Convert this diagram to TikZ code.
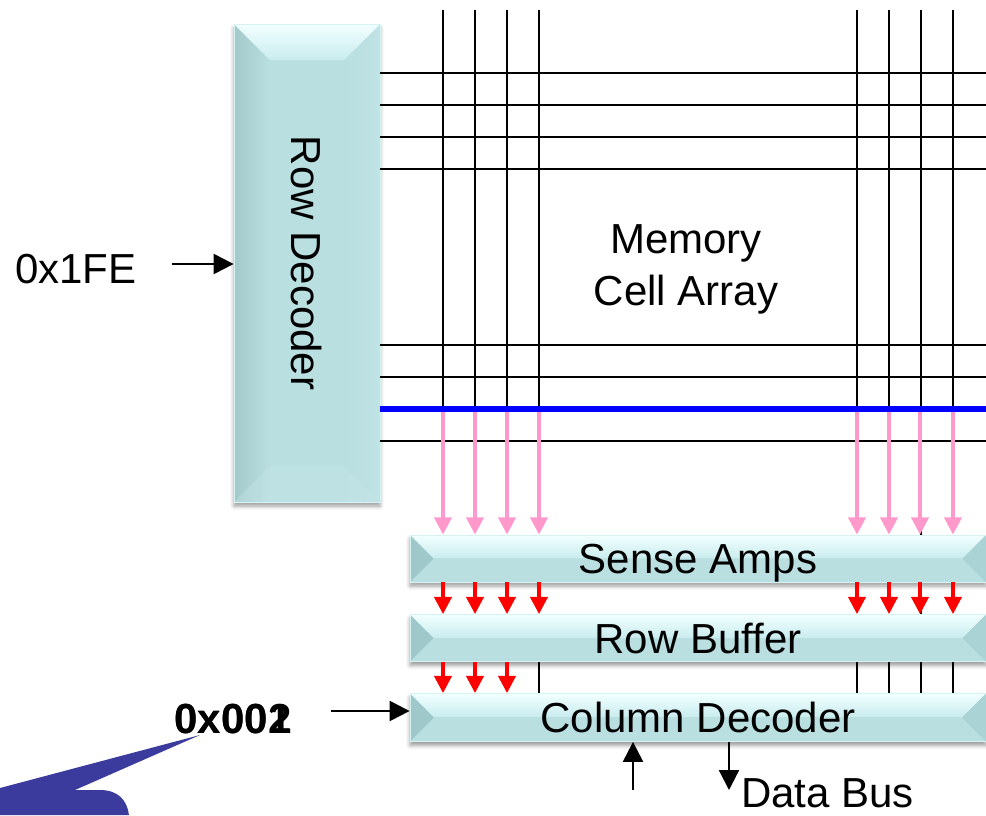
\documentclass[tikz,border=0pt]{standalone}
\usepackage{fontspec}
\setmainfont{Liberation Sans}
\usetikzlibrary{arrows.meta,calc,shadows.blur}
\definecolor{cbase}{HTML}{B9DFE1}
\definecolor{cleft}{HTML}{9EC8CA}
\definecolor{cright}{HTML}{AAD3D5}
\definecolor{ctopw}{HTML}{F2FFFF}
\definecolor{ctopl}{HTML}{C9ECEE}
\definecolor{cedge}{HTML}{D6F2F3}
\definecolor{vleft}{HTML}{A3C9CB}
\definecolor{vright}{HTML}{C0E3E5}
\definecolor{pinkline}{HTML}{FF99CC}
\definecolor{calloutblue}{HTML}{3B3B9E}
\tikzset{
  lbl/.style={font=\fontsize{31.5}{38}\selectfont, inner sep=0pt},
  boxshadow/.style={blur shadow={shadow xshift=0pt,shadow yshift=-3pt,shadow blur radius=3pt,shadow opacity=40}},
  hbevel/.style={draw=cedge, line width=0.6pt, boxshadow,
    text height=22.6pt, text depth=0pt, inner sep=0pt,
    font=\fontsize{31.5}{38}\selectfont,
    path picture={
      \coordinate (bSW) at (path picture bounding box.south west);
      \coordinate (bNE) at (path picture bounding box.north east);
      \coordinate (bNW) at (bSW |- bNE);
      \coordinate (bSE) at (bNE |- bSW);
      \fill[cbase] (bSW) rectangle (bNE);
      \shade[top color=ctopw, bottom color=ctopl] (bNW) -- (bNE) -- ($(bNE)+(-#1,-#1)$) -- ($(bNW)+(#1,-#1)$) -- cycle;
      \fill[cleft] (bNW) -- ($(bNW)+(#1,-#1)$) -- ($(bSW)+(#1,#1)$) -- (bSW) -- cycle;
      \fill[cright] (bNE) -- ($(bNE)+(-#1,-#1)$) -- ($(bSE)+(-#1,#1)$) -- (bSE) -- cycle;
    }},
  vbevel/.style={draw=cedge, line width=0.6pt, boxshadow, inner sep=0pt,
    path picture={
      \coordinate (bSW) at (path picture bounding box.south west);
      \coordinate (bNE) at (path picture bounding box.north east);
      \coordinate (bNW) at (bSW |- bNE);
      \coordinate (bSE) at (bNE |- bSW);
      \fill[cbase] (bSW) rectangle (bNE);
      \shade[left color=vleft, right color=cbase] (bSW) rectangle ($(bNW)+(#1,0)$);
      \shade[left color=cbase, right color=vright] ($(bSE)+(-#1,0)$) rectangle (bNE);
      \shade[top color=ctopw, bottom color=ctopl] (bNW) -- (bNE) -- ($(bNE)+(-#1,-#1)$) -- ($(bNW)+(#1,-#1)$) -- cycle;
      \fill[cbase!80!white, opacity=0.4] (bSW) -- (bSE) -- ($(bSE)+(-#1,#1)$) -- ($(bSW)+(#1,#1)$) -- cycle;
    }},
  gridline/.style={line width=1.5pt, black},
  busline/.style={line width=4.5pt, color={rgb,255:red,0;green,0;blue,255}},
  pinkarr/.style={line width=2.6pt, pinkline, -{Triangle[length=13pt,width=13pt]}},
  redarr/.style={line width=2.6pt, red, -{Triangle[length=13pt,width=13pt]}},
  blkarr/.style={line width=1.7pt, black, -{Triangle[length=15pt,width=15pt]}},
}
\begin{document}
\begin{tikzpicture}[x=0.75pt,y=-0.75pt]
\useasboundingbox (0,0) rectangle (986,815);

% callout shape bottom-left
\fill[calloutblue] (200,735) -- (0,788) -- (0,815) -- (129,815)
  .. controls (127,800) and (118,790) .. (100,790) -- (75,790) -- cycle;

% row decoder
\node[vbevel=27pt, minimum width=109.5pt, minimum height=358.5pt] (rd) at (307,263) {};
\node[lbl, rotate=-90] (rdt) at (rd.center) {Row Decoder};

% grid
\foreach \x in {443,475,507,539,857,889,953}
  \draw[gridline] (\x,10) -- (\x,409);
\draw[gridline] (921,10) -- (921,614);
\foreach \y in {73,105,137,169,345,377,441}
  \draw[gridline] (380,\y) -- (986,\y);
\draw[busline] (380,409) -- (986,409);

\node[lbl, anchor=base] (mem1) at (686,253) {Memory};
\node[lbl, anchor=base] (mem2) at (686,305) {Cell Array};

% boxes
\node[hbevel=17.6pt, minimum width=432pt, minimum height=35.25pt] (sa) at (698,558.5) {Sense Amps};
\node[hbevel=17.6pt, minimum width=432pt, minimum height=35.25pt] (rb) at (698,638) {Row Buffer};
\node[hbevel=17.6pt, minimum width=432pt, minimum height=36pt] (cd) at (698,717.5) {Column Decoder};

% pink arrows
\foreach \x in {443,475,507,539,857,889,920,953}
  \draw[pinkarr] (\x,412) -- (\x,0 |- sa.north);
% red arrows
\foreach \x in {443,475,507,539,857,889,920,953}
  \draw[redarr] (\x,0 |- sa.south) -- (\x,0 |- rb.north);
\foreach \x in {443,475,507}
  \draw[redarr] (\x,0 |- rb.south) -- (\x,0 |- cd.north);
\foreach \x in {539,857,889,921,953}
  \draw[gridline] (\x,0 |- rb.south) -- (\x,0 |- cd.north);

% address inputs
\node[lbl, anchor=base west] (rowaddr) at (15,283) {0x1FE};
\coordinate (rowarr) at (172,264);
\draw[blkarr] (rowarr) -- (rd.west |- rowarr);

\node[lbl, font=\fontsize{31.5}{38}\selectfont\bfseries, anchor=base] (coladdra) at (233,733) {0x001};
\node[lbl, font=\fontsize{31.5}{38}\selectfont\bfseries, anchor=base] (coladdrb) at (233,733) {0x002};
\coordinate (colarr) at (331,711);
\draw[blkarr] (colarr) -- (cd.west |- colarr);

% data bus
\coordinate (upfoot) at (633,790);
\coordinate (downfoot) at (729,790);
\draw[blkarr] (upfoot) -- (upfoot |- cd.south);
\draw[blkarr] (downfoot |- cd.south) -- (downfoot);
\node[lbl, anchor=base west] (databus) at (741,807) {Data Bus};
\end{tikzpicture}
\end{document}
